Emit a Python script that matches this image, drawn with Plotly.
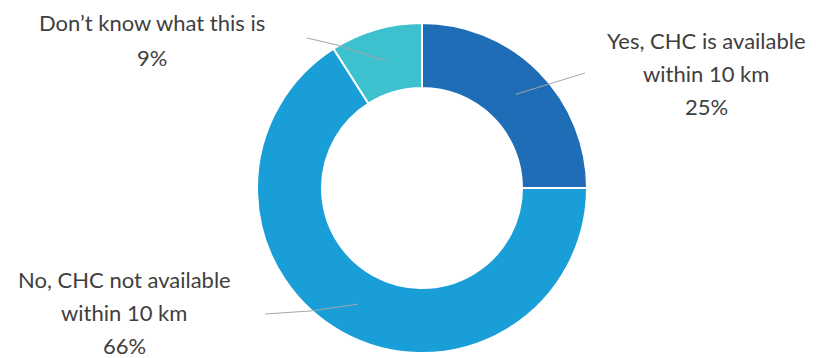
import math
import plotly.graph_objects as go

categories = ["Yes, CHC is available within 10 km",
              "No, CHC not available within 10 km",
              "Don’t know what this is"]
label_lines = [["Yes, CHC is available", "within 10 km"],
               ["No, CHC not available", "within 10 km"],
               ["Don’t know what this is"]]
values = [25, 66, 9]
colors = ["#1F6DB7", "#199ED8", "#3EC1CF"]

W, H = 816, 358
OFF = 8  # page body margin
CX, CY, R_OUT, R_IN = 422, 188, 165, 100

# label layout (pixel positions of label centre x, first line y, line step) and leader line bends
label_pos = [(706, 40, 33), (124, 279, 33), (152, 22, 35)]
leader_ends = [[(585, 73)], [(310, 311), (265, 314)], [(337, 45), (307, 38)]]

def px(x):
    return (x - OFF) / W

def py(y):
    return 1 - (y - OFF) / H

fig = go.Figure(go.Pie(
    labels=categories, values=values, sort=False, direction="clockwise", rotation=0,
    hole=R_IN / R_OUT, marker=dict(colors=colors, line=dict(color="white", width=2)),
    textinfo="none", hoverinfo="label+percent", showlegend=False,
    domain=dict(x=[px(CX - R_OUT), px(CX + R_OUT)], y=[py(CY + R_OUT), py(CY - R_OUT)]),
))

total = sum(values)
cum = 0
annotations = []
shapes = []
for i, v in enumerate(values):
    mid = (cum + v / 2) / total * 2 * math.pi
    cum += v
    rm = (R_OUT + R_IN) / 2
    sx, sy = CX + rm * math.sin(mid), CY - rm * math.cos(mid)
    pts = [(sx, sy)] + leader_ends[i]
    path = "M " + " L ".join(f"{px(x)},{py(y)}" for x, y in pts)
    shapes.append(dict(type="path", path=path, xref="paper", yref="paper",
                       line=dict(color="#A6A6A6", width=1)))
    lx, ly, step = label_pos[i]
    lines = label_lines[i] + [f"{round(v / total * 100)}%"]
    for j, t in enumerate(lines):
        annotations.append(dict(text=t, x=px(lx), y=py(ly + j * step), xref="paper", yref="paper",
                                showarrow=False, xanchor="center", yanchor="middle",
                                font=dict(family="Lato", size=22, color="#404040")))

fig.update_layout(width=W, height=H, margin=dict(l=0, r=0, t=0, b=0),
                  paper_bgcolor="white", plot_bgcolor="white",
                  annotations=annotations, shapes=shapes)
fig.write_html("out.html")
